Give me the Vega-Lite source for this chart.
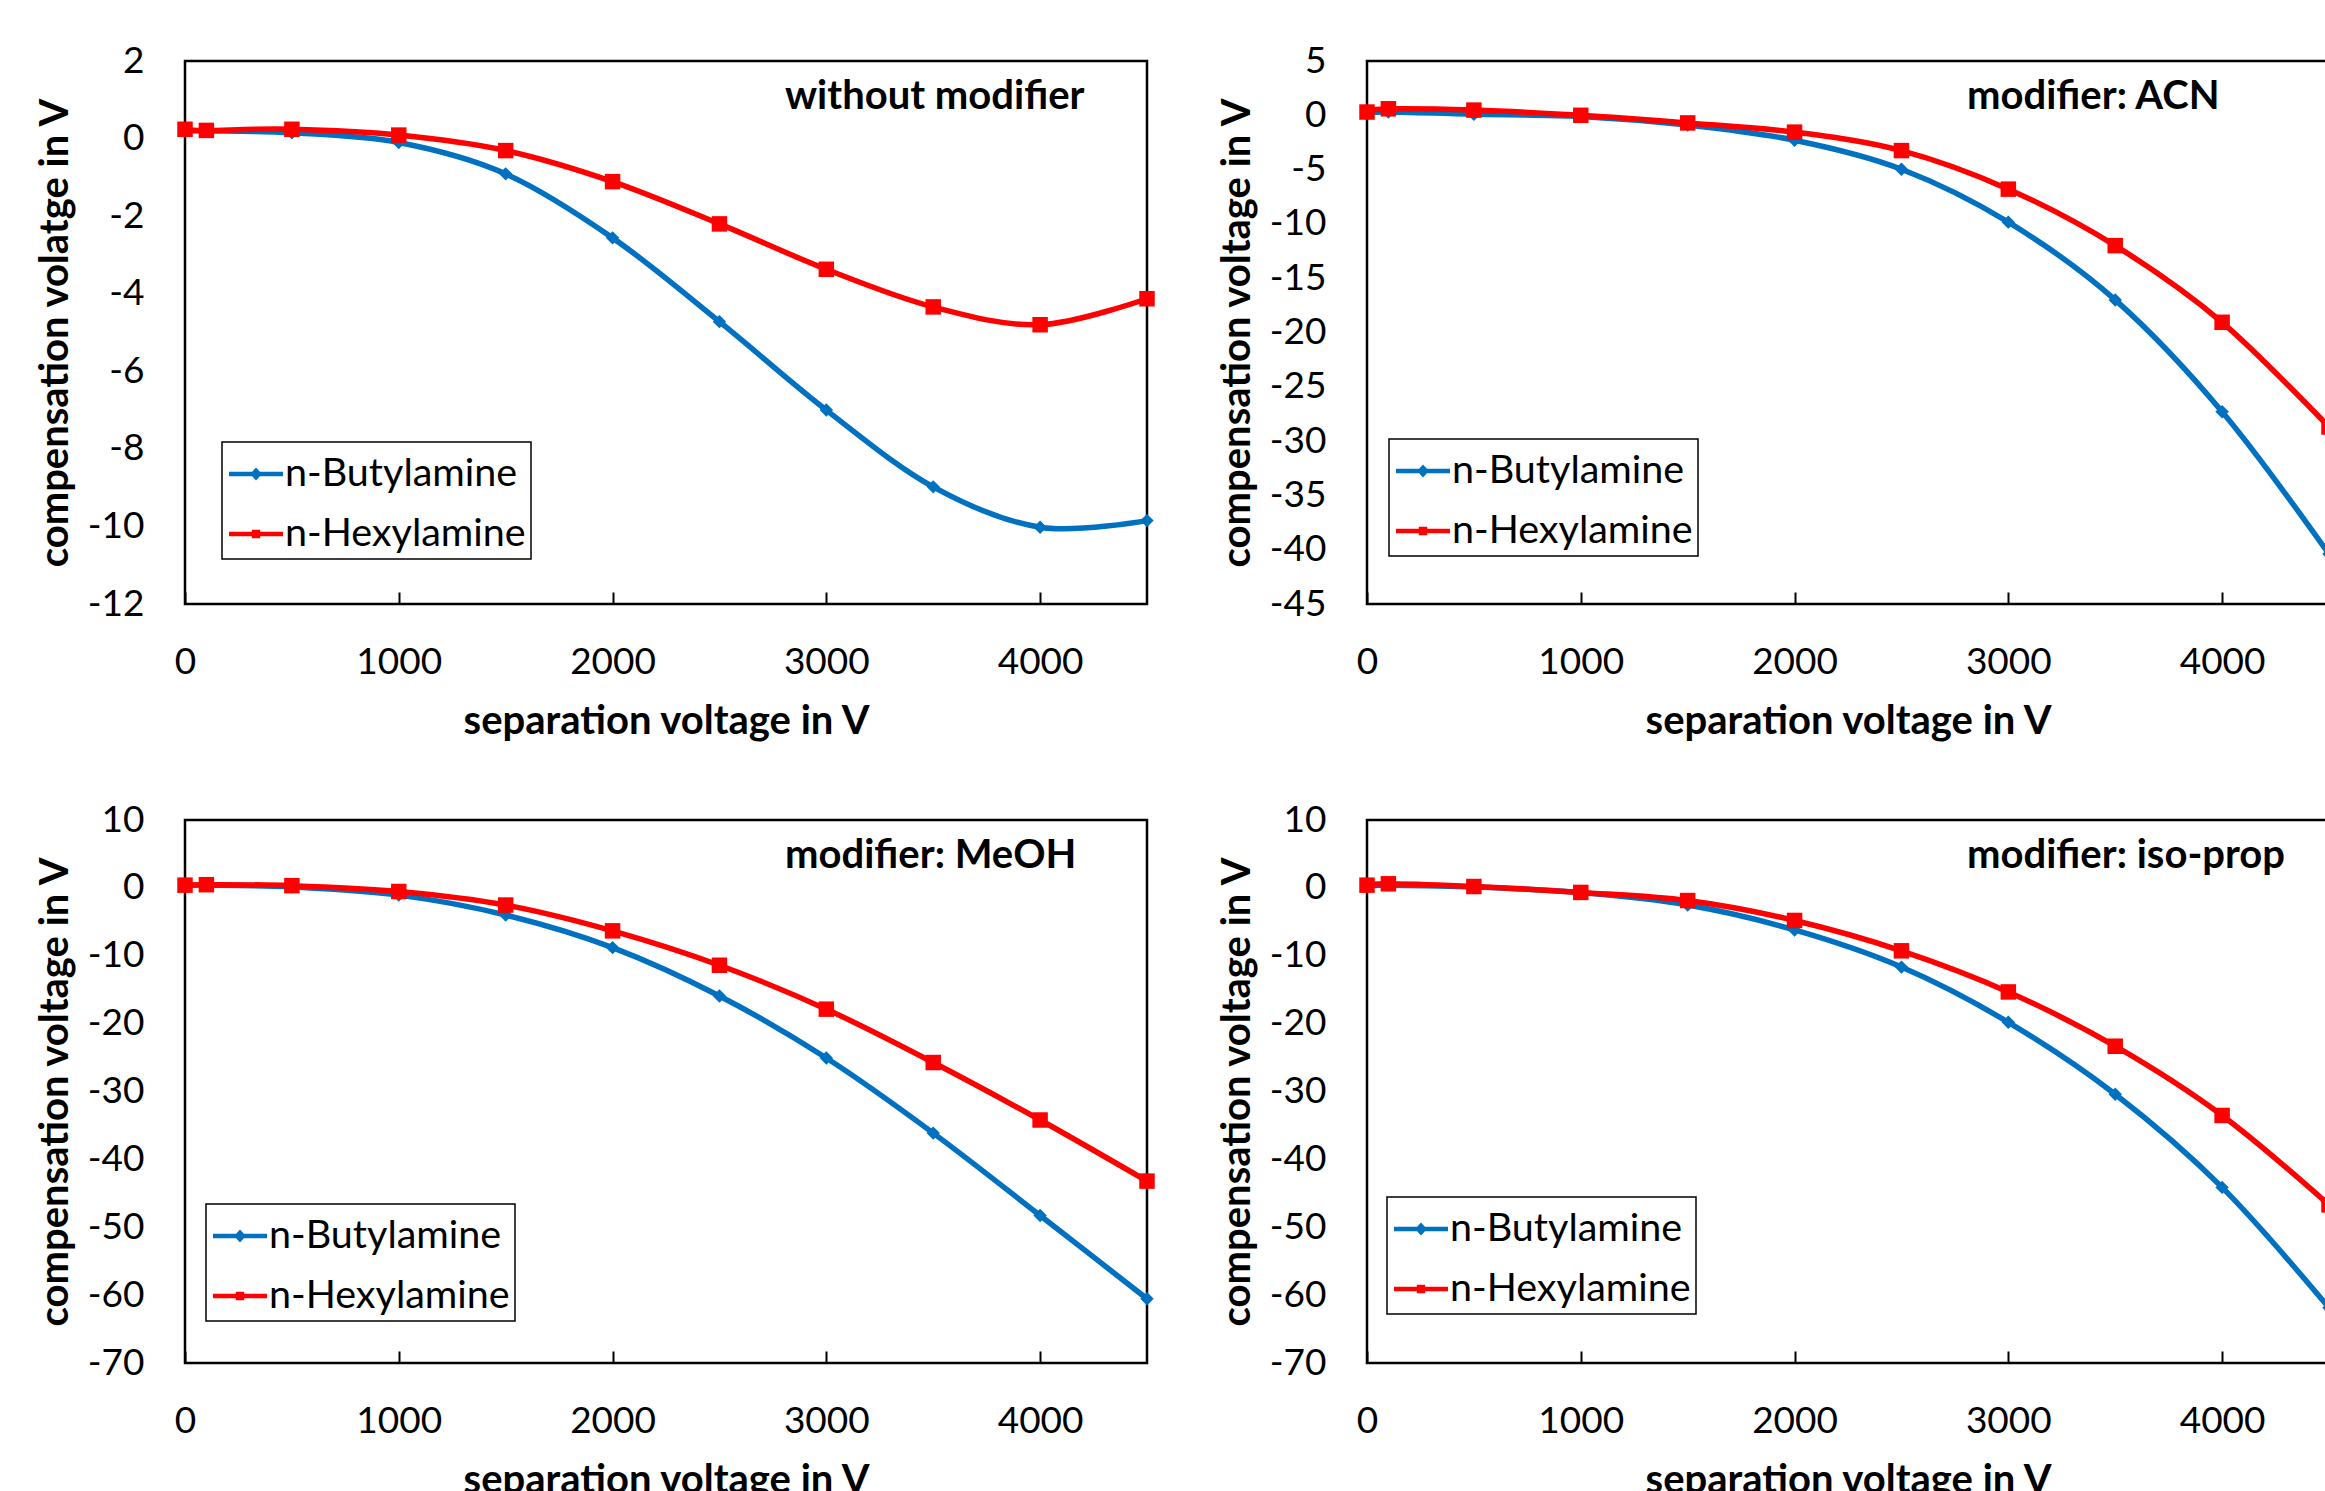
{
  "$schema": "https://vega.github.io/schema/vega-lite/v6.json",
  "background": "white",
  "padding": {"left": 34, "top": 40, "right": 0, "bottom": 0},
  "bounds": "flush",
  "columns": 2,
  "spacing": {"row": 216, "column": 220},
  "datasets": {
    "cv": [
      {"p": "A", "s": "n-Butylamine", "x": 0, "y": 0.2},
      {"p": "A", "s": "n-Butylamine", "x": 100, "y": 0.2},
      {"p": "A", "s": "n-Butylamine", "x": 500, "y": 0.15},
      {"p": "A", "s": "n-Butylamine", "x": 1000, "y": -0.1},
      {"p": "A", "s": "n-Butylamine", "x": 1500, "y": -0.91},
      {"p": "A", "s": "n-Butylamine", "x": 2000, "y": -2.56},
      {"p": "A", "s": "n-Butylamine", "x": 2500, "y": -4.72},
      {"p": "A", "s": "n-Butylamine", "x": 3000, "y": -7.0},
      {"p": "A", "s": "n-Butylamine", "x": 3500, "y": -8.98},
      {"p": "A", "s": "n-Butylamine", "x": 4000, "y": -10.02},
      {"p": "A", "s": "n-Butylamine", "x": 4500, "y": -9.85},
      {"p": "A", "s": "n-Hexylamine", "x": 0, "y": 0.24},
      {"p": "A", "s": "n-Hexylamine", "x": 100, "y": 0.21},
      {"p": "A", "s": "n-Hexylamine", "x": 500, "y": 0.24},
      {"p": "A", "s": "n-Hexylamine", "x": 1000, "y": 0.09},
      {"p": "A", "s": "n-Hexylamine", "x": 1500, "y": -0.31},
      {"p": "A", "s": "n-Hexylamine", "x": 2000, "y": -1.11},
      {"p": "A", "s": "n-Hexylamine", "x": 2500, "y": -2.2},
      {"p": "A", "s": "n-Hexylamine", "x": 3000, "y": -3.37},
      {"p": "A", "s": "n-Hexylamine", "x": 3500, "y": -4.34},
      {"p": "A", "s": "n-Hexylamine", "x": 4000, "y": -4.8},
      {"p": "A", "s": "n-Hexylamine", "x": 4500, "y": -4.13},
      {"p": "B", "s": "n-Butylamine", "x": 0, "y": 0.2},
      {"p": "B", "s": "n-Butylamine", "x": 100, "y": 0.3},
      {"p": "B", "s": "n-Butylamine", "x": 500, "y": 0.1},
      {"p": "B", "s": "n-Butylamine", "x": 1000, "y": -0.1},
      {"p": "B", "s": "n-Butylamine", "x": 1500, "y": -0.9},
      {"p": "B", "s": "n-Butylamine", "x": 2000, "y": -2.3},
      {"p": "B", "s": "n-Butylamine", "x": 2500, "y": -4.97},
      {"p": "B", "s": "n-Butylamine", "x": 3000, "y": -9.84},
      {"p": "B", "s": "n-Butylamine", "x": 3500, "y": -17.0},
      {"p": "B", "s": "n-Butylamine", "x": 4000, "y": -27.3},
      {"p": "B", "s": "n-Butylamine", "x": 4500, "y": -40.4},
      {"p": "B", "s": "n-Hexylamine", "x": 0, "y": 0.3},
      {"p": "B", "s": "n-Hexylamine", "x": 100, "y": 0.6},
      {"p": "B", "s": "n-Hexylamine", "x": 500, "y": 0.48},
      {"p": "B", "s": "n-Hexylamine", "x": 1000, "y": 0.0},
      {"p": "B", "s": "n-Hexylamine", "x": 1500, "y": -0.7},
      {"p": "B", "s": "n-Hexylamine", "x": 2000, "y": -1.55},
      {"p": "B", "s": "n-Hexylamine", "x": 2500, "y": -3.25},
      {"p": "B", "s": "n-Hexylamine", "x": 3000, "y": -6.8},
      {"p": "B", "s": "n-Hexylamine", "x": 3500, "y": -12.0},
      {"p": "B", "s": "n-Hexylamine", "x": 4000, "y": -19.06},
      {"p": "B", "s": "n-Hexylamine", "x": 4500, "y": -28.7},
      {"p": "C", "s": "n-Butylamine", "x": 0, "y": 0.3},
      {"p": "C", "s": "n-Butylamine", "x": 100, "y": 0.4},
      {"p": "C", "s": "n-Butylamine", "x": 500, "y": 0.13},
      {"p": "C", "s": "n-Butylamine", "x": 1000, "y": -1.07},
      {"p": "C", "s": "n-Butylamine", "x": 1500, "y": -4.0},
      {"p": "C", "s": "n-Butylamine", "x": 2000, "y": -8.8},
      {"p": "C", "s": "n-Butylamine", "x": 2500, "y": -15.93},
      {"p": "C", "s": "n-Butylamine", "x": 3000, "y": -25.07},
      {"p": "C", "s": "n-Butylamine", "x": 3500, "y": -36.13},
      {"p": "C", "s": "n-Butylamine", "x": 4000, "y": -48.27},
      {"p": "C", "s": "n-Butylamine", "x": 4500, "y": -60.53},
      {"p": "C", "s": "n-Hexylamine", "x": 0, "y": 0.4},
      {"p": "C", "s": "n-Hexylamine", "x": 100, "y": 0.47},
      {"p": "C", "s": "n-Hexylamine", "x": 500, "y": 0.33},
      {"p": "C", "s": "n-Hexylamine", "x": 1000, "y": -0.53},
      {"p": "C", "s": "n-Hexylamine", "x": 1500, "y": -2.53},
      {"p": "C", "s": "n-Hexylamine", "x": 2000, "y": -6.33},
      {"p": "C", "s": "n-Hexylamine", "x": 2500, "y": -11.4},
      {"p": "C", "s": "n-Hexylamine", "x": 3000, "y": -17.87},
      {"p": "C", "s": "n-Hexylamine", "x": 3500, "y": -25.73},
      {"p": "C", "s": "n-Hexylamine", "x": 4000, "y": -34.2},
      {"p": "C", "s": "n-Hexylamine", "x": 4500, "y": -43.2},
      {"p": "D", "s": "n-Butylamine", "x": 0, "y": 0.3},
      {"p": "D", "s": "n-Butylamine", "x": 100, "y": 0.4},
      {"p": "D", "s": "n-Butylamine", "x": 500, "y": 0.15},
      {"p": "D", "s": "n-Butylamine", "x": 1000, "y": -0.7},
      {"p": "D", "s": "n-Butylamine", "x": 1500, "y": -2.53},
      {"p": "D", "s": "n-Butylamine", "x": 2000, "y": -6.2},
      {"p": "D", "s": "n-Butylamine", "x": 2500, "y": -11.67},
      {"p": "D", "s": "n-Butylamine", "x": 3000, "y": -19.8},
      {"p": "D", "s": "n-Butylamine", "x": 3500, "y": -30.4},
      {"p": "D", "s": "n-Butylamine", "x": 4000, "y": -44.13},
      {"p": "D", "s": "n-Butylamine", "x": 4500, "y": -61.87},
      {"p": "D", "s": "n-Hexylamine", "x": 0, "y": 0.4},
      {"p": "D", "s": "n-Hexylamine", "x": 100, "y": 0.6},
      {"p": "D", "s": "n-Hexylamine", "x": 500, "y": 0.2},
      {"p": "D", "s": "n-Hexylamine", "x": 1000, "y": -0.67},
      {"p": "D", "s": "n-Hexylamine", "x": 1500, "y": -1.87},
      {"p": "D", "s": "n-Hexylamine", "x": 2000, "y": -4.8},
      {"p": "D", "s": "n-Hexylamine", "x": 2500, "y": -9.27},
      {"p": "D", "s": "n-Hexylamine", "x": 3000, "y": -15.33},
      {"p": "D", "s": "n-Hexylamine", "x": 3500, "y": -23.33},
      {"p": "D", "s": "n-Hexylamine", "x": 4000, "y": -33.53},
      {"p": "D", "s": "n-Hexylamine", "x": 4500, "y": -46.7}
    ]
  },
  "data": {"name": "cv"},
  "resolve": {
    "scale": {"color": "independent"},
    "legend": {"color": "independent"}
  },
  "concat": [
    {
      "width": 962, "height": 543,
      "transform": [{"filter": "datum.p == 'A'"}],
      "title": {"text": "without modifier"},
      "encoding": {
        "x": {"field": "x", "type": "quantitative", "scale": {"domain": [0, 4500], "nice": false, "zero": false},
              "axis": {"title": "separation voltage in V", "values": [0, 1000, 2000, 3000, 4000], "labelExpr": "toString(datum.value)"}},
        "y": {"field": "y", "type": "quantitative", "scale": {"domain": [-12, 2], "nice": false, "zero": false},
              "axis": {"title": "compensation volatge in V", "values": [-12, -10, -8, -6, -4, -2, 0, 2], "labelExpr": "toString(datum.value)"}}
      },
      "layer": [
        {"mark": {"type": "line", "interpolate": "cardinal", "strokeWidth": 5.5},
         "encoding": {"color": {"field": "s", "type": "nominal", "scale": {"domain": ["n-Butylamine", "n-Hexylamine"], "range": ["#0070C0", "#FF0000"]},
           "legend": {"orient": "none", "legendX": 37, "legendY": 381,
             "encode": {"symbols": {"update": {
               "shape": {"signal": "datum.value == 'n-Butylamine' ? 'M-1,-0.085L1,-0.085L1,0.085L-1,0.085Z M-0.22,0L0,-0.24L0.22,0L0,0.24Z' : 'M-1,-0.085L1,-0.085L1,0.085L-1,0.085Z M-0.155,-0.155L0.155,-0.155L0.155,0.155L-0.155,0.155Z'"},
               "fill": {"signal": "datum.value == 'n-Butylamine' ? '#0070C0' : '#FF0000'"},
               "stroke": {"value": "transparent"},
               "strokeWidth": {"value": 0}}}}}}}},
        {"transform": [{"filter": "datum.s == 'n-Butylamine'"}],
         "mark": {"type": "point", "filled": true, "opacity": 1, "shape": "diamond", "size": 180, "color": "#0070C0"}},
        {"transform": [{"filter": "datum.s == 'n-Hexylamine'"}],
         "mark": {"type": "point", "filled": true, "opacity": 1, "shape": "square", "size": 240, "color": "#FF0000"}}
      ]
    },
    {
      "width": 962, "height": 543,
      "transform": [{"filter": "datum.p == 'B'"}],
      "title": {"text": "modifier: ACN"},
      "encoding": {
        "x": {"field": "x", "type": "quantitative", "scale": {"domain": [0, 4500], "nice": false, "zero": false},
              "axis": {"title": "separation voltage in V", "values": [0, 1000, 2000, 3000, 4000], "labelExpr": "toString(datum.value)"}},
        "y": {"field": "y", "type": "quantitative", "scale": {"domain": [-45, 5], "nice": false, "zero": false},
              "axis": {"title": "compensation voltage in V", "values": [-45, -40, -35, -30, -25, -20, -15, -10, -5, 0, 5], "labelExpr": "toString(datum.value)"}}
      },
      "layer": [
        {"mark": {"type": "line", "interpolate": "cardinal", "strokeWidth": 5.5},
         "encoding": {"color": {"field": "s", "type": "nominal", "scale": {"domain": ["n-Butylamine", "n-Hexylamine"], "range": ["#0070C0", "#FF0000"]},
           "legend": {"orient": "none", "legendX": 22, "legendY": 378,
             "encode": {"symbols": {"update": {
               "shape": {"signal": "datum.value == 'n-Butylamine' ? 'M-1,-0.085L1,-0.085L1,0.085L-1,0.085Z M-0.22,0L0,-0.24L0.22,0L0,0.24Z' : 'M-1,-0.085L1,-0.085L1,0.085L-1,0.085Z M-0.155,-0.155L0.155,-0.155L0.155,0.155L-0.155,0.155Z'"},
               "fill": {"signal": "datum.value == 'n-Butylamine' ? '#0070C0' : '#FF0000'"},
               "stroke": {"value": "transparent"},
               "strokeWidth": {"value": 0}}}}}}}},
        {"transform": [{"filter": "datum.s == 'n-Butylamine'"}],
         "mark": {"type": "point", "filled": true, "opacity": 1, "shape": "diamond", "size": 180, "color": "#0070C0"}},
        {"transform": [{"filter": "datum.s == 'n-Hexylamine'"}],
         "mark": {"type": "point", "filled": true, "opacity": 1, "shape": "square", "size": 240, "color": "#FF0000"}}
      ]
    },
    {
      "width": 962, "height": 543,
      "transform": [{"filter": "datum.p == 'C'"}],
      "title": {"text": "modifier: MeOH"},
      "encoding": {
        "x": {"field": "x", "type": "quantitative", "scale": {"domain": [0, 4500], "nice": false, "zero": false},
              "axis": {"title": "separation voltage in V", "values": [0, 1000, 2000, 3000, 4000], "labelExpr": "toString(datum.value)"}},
        "y": {"field": "y", "type": "quantitative", "scale": {"domain": [-70, 10], "nice": false, "zero": false},
              "axis": {"title": "compensation voltage in V", "values": [-70, -60, -50, -40, -30, -20, -10, 0, 10], "labelExpr": "toString(datum.value)"}}
      },
      "layer": [
        {"mark": {"type": "line", "interpolate": "cardinal", "strokeWidth": 5.5},
         "encoding": {"color": {"field": "s", "type": "nominal", "scale": {"domain": ["n-Butylamine", "n-Hexylamine"], "range": ["#0070C0", "#FF0000"]},
           "legend": {"orient": "none", "legendX": 21, "legendY": 384,
             "encode": {"symbols": {"update": {
               "shape": {"signal": "datum.value == 'n-Butylamine' ? 'M-1,-0.085L1,-0.085L1,0.085L-1,0.085Z M-0.22,0L0,-0.24L0.22,0L0,0.24Z' : 'M-1,-0.085L1,-0.085L1,0.085L-1,0.085Z M-0.155,-0.155L0.155,-0.155L0.155,0.155L-0.155,0.155Z'"},
               "fill": {"signal": "datum.value == 'n-Butylamine' ? '#0070C0' : '#FF0000'"},
               "stroke": {"value": "transparent"},
               "strokeWidth": {"value": 0}}}}}}}},
        {"transform": [{"filter": "datum.s == 'n-Butylamine'"}],
         "mark": {"type": "point", "filled": true, "opacity": 1, "shape": "diamond", "size": 180, "color": "#0070C0"}},
        {"transform": [{"filter": "datum.s == 'n-Hexylamine'"}],
         "mark": {"type": "point", "filled": true, "opacity": 1, "shape": "square", "size": 240, "color": "#FF0000"}}
      ]
    },
    {
      "width": 962, "height": 543,
      "transform": [{"filter": "datum.p == 'D'"}],
      "title": {"text": "modifier: iso-prop"},
      "encoding": {
        "x": {"field": "x", "type": "quantitative", "scale": {"domain": [0, 4500], "nice": false, "zero": false},
              "axis": {"title": "separation voltage in V", "values": [0, 1000, 2000, 3000, 4000], "labelExpr": "toString(datum.value)"}},
        "y": {"field": "y", "type": "quantitative", "scale": {"domain": [-70, 10], "nice": false, "zero": false},
              "axis": {"title": "compensation voltage in V", "values": [-70, -60, -50, -40, -30, -20, -10, 0, 10], "labelExpr": "toString(datum.value)"}}
      },
      "layer": [
        {"mark": {"type": "line", "interpolate": "cardinal", "strokeWidth": 5.5},
         "encoding": {"color": {"field": "s", "type": "nominal", "scale": {"domain": ["n-Butylamine", "n-Hexylamine"], "range": ["#0070C0", "#FF0000"]},
           "legend": {"orient": "none", "legendX": 20, "legendY": 377,
             "encode": {"symbols": {"update": {
               "shape": {"signal": "datum.value == 'n-Butylamine' ? 'M-1,-0.085L1,-0.085L1,0.085L-1,0.085Z M-0.22,0L0,-0.24L0.22,0L0,0.24Z' : 'M-1,-0.085L1,-0.085L1,0.085L-1,0.085Z M-0.155,-0.155L0.155,-0.155L0.155,0.155L-0.155,0.155Z'"},
               "fill": {"signal": "datum.value == 'n-Butylamine' ? '#0070C0' : '#FF0000'"},
               "stroke": {"value": "transparent"},
               "strokeWidth": {"value": 0}}}}}}}},
        {"transform": [{"filter": "datum.s == 'n-Butylamine'"}],
         "mark": {"type": "point", "filled": true, "opacity": 1, "shape": "diamond", "size": 180, "color": "#0070C0"}},
        {"transform": [{"filter": "datum.s == 'n-Hexylamine'"}],
         "mark": {"type": "point", "filled": true, "opacity": 1, "shape": "square", "size": 240, "color": "#FF0000"}}
      ]
    }
  ],
  "config": {
    "font": "Lato",
    "view": {"stroke": "black", "strokeWidth": 2.5},
    "title": {"fontSize": 40, "font": "Lato", "fontWeight": "bold", "color": "black", "anchor": "start", "frame": "group", "offset": -75, "dx": 600},
    "axis": {"grid": false, "domain": false, "labelFont": "Lato", "labelColor": "black", "labelFontSize": 37, "titleFont": "Lato", "titleColor": "black", "titleFontSize": 40, "titleFontWeight": "bold", "labelFlush": false, "labelOverlap": false},
    "axisX": {"tickSize": -12, "tickWidth": 2, "tickColor": "black", "labelPadding": 52, "titlePadding": 21},
    "axisY": {"ticks": false, "labelPadding": 41, "titlePadding": 12},
    "legend": {"title": null, "labelFont": "Lato", "labelFontSize": 39.5, "labelColor": "black", "labelLimit": 0, "symbolSize": 2916, "padding": 5, "rowPadding": 13, "labelOffset": 2, "symbolOffset": 2, "strokeColor": "black", "fillColor": "white", "strokeWidth": 1.5}
  }
}
